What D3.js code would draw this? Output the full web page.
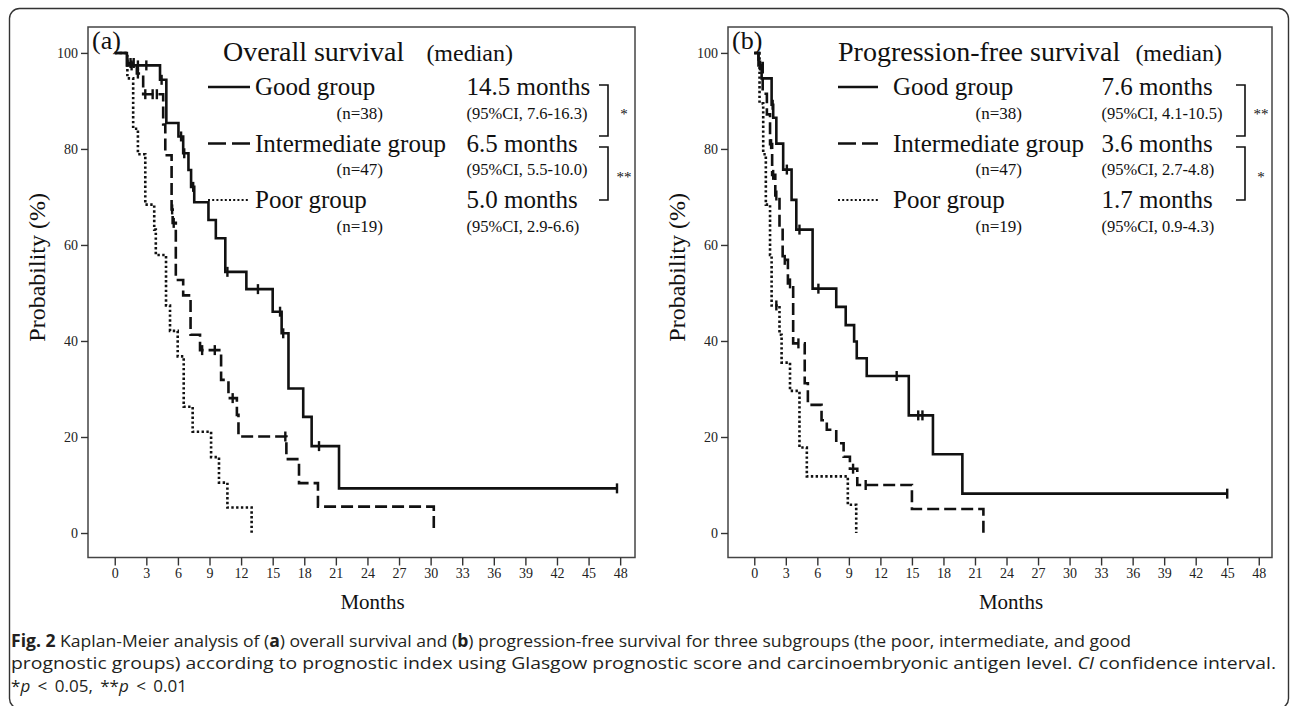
<!DOCTYPE html>
<html>
<head>
<meta charset="utf-8">
<script src="https://cdn.jsdelivr.net/npm/d3@7"></script>
<style>
  body { margin: 0; background: #fff; }
  svg { display: block; }
</style>
</head>
<body>
<svg width="1290" height="706"></svg>
<script>
// axis ticks
const monthTicks = d3.range(0, 49, 3);
const probTicks = [0, 20, 40, 60, 80, 100];

// overall survival: [month, survival %] after each drop, plus censor times
const osGood = [[0,100],[1.15,97.4],[4.3,94.4],[4.9,85.4],[6.05,82.6],[6.5,79.1],[7.0,75.6],[7.25,72.1],[7.55,68.9],[8.9,65.2],[9.6,61.4],[10.5,54.4],[12.5,50.8],[15.0,46.1],[15.85,41.6],[16.5,30.1],[17.9,24.2],[18.7,18.1],[21.3,9.3]];
const osGoodCens = [1.6, 2.2, 3.0, 4.45, 6.3, 6.6, 7.45, 10.7, 13.6, 15.7, 16.0, 19.4, 47.7];
const osInter = [[0,100],[1.2,97.9],[2.1,95.7],[2.7,91.4],[4.6,85.1],[4.8,78.7],[5.4,67.4],[5.5,64.6],[5.8,52.7],[6.5,49.5],[7.2,41.3],[8.1,38.1],[10.1,31.9],[10.8,28.1],[11.6,24.6],[11.75,20.1],[16.3,15.4],[17.5,10.4],[19.3,5.5],[30.3,0]];
const osInterCens = [1.5, 1.8, 2.2, 2.9, 3.6, 4.0, 5.45, 5.6, 8.3, 9.5, 11.2, 16.2];
const osPoor = [[0,100],[1.2,94.7],[1.75,84.2],[2.2,78.9],[2.9,68.4],[3.75,63.2],[3.9,57.9],[4.87,47.4],[5.25,42.1],[5.98,36.8],[6.55,26.3],[7.4,21.1],[9.15,15.8],[9.9,10.5],[10.7,5.3],[13.0,0]];
const osPoorCens = [];

// progression-free survival
const pfsGood = [[0,100],[0.4,97.4],[0.7,94.7],[1.65,89.2],[1.8,86.5],[2.1,81.1],[2.75,75.7],[3.55,69.4],[4.0,63.2],[5.55,50.9],[7.8,47.1],[8.7,43.3],[9.5,39.9],[9.75,36.4],[10.7,32.7],[14.7,24.5],[17.0,16.4],[19.8,8.2]];
const pfsGoodCens = [0.55, 1.75, 3.1, 4.3, 6.1, 13.55, 15.6, 16.0, 45];
const pfsInter = [[0,100],[0.4,97.9],[0.8,91.5],[1.2,87.2],[1.5,81.0],[1.7,74.6],[2.0,70.3],[2.4,63.5],[2.7,56.9],[3.2,52.0],[3.7,39.5],[4.8,31.2],[5.1,26.7],[6.4,23.5],[6.9,21.5],[7.8,18.7],[8.5,15.9],[9.1,13.4],[9.8,10.0],[15.0,5.0],[21.8,0]];
const pfsInterCens = [1.6, 1.8, 2.1, 2.9, 3.4, 4.2, 9.4, 10.6];
const pfsPoor = [[0,100],[0.5,89.5],[0.85,78.9],[1.1,68.4],[1.5,57.9],[1.65,47.4],[2.4,41.3],[2.6,35.5],[3.4,29.6],[4.3,17.8],[5.0,11.8],[8.9,5.9],[9.7,0]];
const pfsPoorCens = [2.1];

// legend texts
const groupNames = ["Good group", "Intermediate group", "Poor group"];
const groupN = ["(n=38)", "(n=47)", "(n=19)"];
const osMedians = ["14.5 months", "6.5 months", "5.0 months"];
const osCI = ["(95%CI, 7.6-16.3)", "(95%CI, 5.5-10.0)", "(95%CI, 2.9-6.6)"];
const pfsMedians = ["7.6 months", "3.6 months", "1.7 months"];
const pfsCI = ["(95%CI, 4.1-10.5)", "(95%CI, 2.7-4.8)", "(95%CI, 0.9-4.3)"];
const osStars = ["*", "**"];
const pfsStars = ["**", "*"];

const serif = "'Liberation Serif', 'Times New Roman', serif";
const ink = "#111";
const svg = d3.select("svg");

// outer rounded box
svg.append("rect")
  .attr("x", 9.5).attr("y", 8.5).attr("width", 1279).attr("height", 700)
  .attr("rx", 10).attr("fill", "none").attr("stroke", "#333").attr("stroke-width", 1.4);

const styles = [
  { dash: null },
  { dash: "12,5" },
  { dash: "2.4,2.4" }
];

function survAt(steps, t) {
  let s = 100;
  for (const [tt, v] of steps) if (tt <= t) s = v;
  return s;
}

function drawPanel(p) {
  const x = d3.scaleLinear().domain(p.xDomain).range([p.left, p.right]);
  const y = d3.scaleLinear().domain([-5.1, 105.4]).range([557.5, 27]);

  // frame
  svg.append("rect")
    .attr("x", p.left).attr("y", 27).attr("width", p.right - p.left).attr("height", 530.5)
    .attr("fill", "none").attr("stroke", "#444").attr("stroke-width", 1.5);

  const gx = svg.append("g")
    .attr("transform", "translate(0,557.5)")
    .call(d3.axisBottom(x).tickValues(monthTicks).tickSize(8).tickSizeOuter(0));
  const gy = svg.append("g")
    .attr("transform", `translate(${p.left},0)`)
    .call(d3.axisLeft(y).tickValues(probTicks).tickSize(7).tickSizeOuter(0));
  [gx, gy].forEach(g => {
    g.select(".domain").remove();
    g.selectAll(".tick line").attr("stroke", "#333").attr("stroke-width", 1.4);
    g.selectAll(".tick text").attr("font-family", serif).attr("font-size", 14).attr("fill", "#222");
  });

  // axis titles
  svg.append("text")
    .attr("x", (p.left + p.right) / 2 + 11).attr("y", 609)
    .attr("text-anchor", "middle").attr("font-family", serif).attr("font-size", 21).attr("fill", ink)
    .text("Months");
  svg.append("text")
    .attr("transform", `translate(${p.left - 43},193) rotate(-90)`)
    .attr("text-anchor", "end").attr("font-family", serif).attr("font-size", 24).attr("fill", ink)
    .text("Probability (%)");

  // curves, poor first so good sits on top
  const line = d3.line().x(d => x(d[0])).y(d => y(d[1])).curve(d3.curveStepAfter);
  [2, 1, 0].forEach(i => {
    const steps = p.curves[i], cens = p.cens[i];
    const pts = steps.slice();
    const end = d3.max(cens) || 0;
    if (end > pts[pts.length - 1][0]) pts.push([end, pts[pts.length - 1][1]]);
    svg.append("path")
      .attr("d", line(pts))
      .attr("fill", "none").attr("stroke", ink).attr("stroke-width", 2.6)
      .attr("stroke-dasharray", styles[i].dash);
    svg.append("g").selectAll("line")
      .data(cens).join("line")
      .attr("x1", d => x(d)).attr("x2", d => x(d))
      .attr("y1", d => y(survAt(steps, d)) - 5)
      .attr("y2", d => y(survAt(steps, d)) + 5)
      .attr("stroke", ink).attr("stroke-width", 2.4);
  });

  // panel letter and legend
  svg.append("text").attr("x", p.left + 4).attr("y", 49)
    .attr("font-family", serif).attr("font-size", 26).attr("fill", ink).text(p.letter);
  svg.append("text").attr("x", p.titleX).attr("y", 61)
    .attr("font-family", serif).attr("font-size", 28).attr("fill", ink).text(p.title);
  svg.append("text").attr("x", p.medianEnd).attr("y", 61).attr("text-anchor", "end")
    .attr("font-family", serif).attr("font-size", 24).attr("fill", ink).text("(median)");

  const rows = [95, 151.5, 208];
  rows.forEach((ry, i) => {
    svg.append("line")
      .attr("x1", p.sampleX[0]).attr("x2", p.sampleX[1])
      .attr("y1", ry - 8).attr("y2", ry - 8)
      .attr("stroke", ink).attr("stroke-width", i === 2 ? 2.2 : 2.4)
      .attr("stroke-dasharray", i === 1 ? "18,6" : (i === 2 ? "2,2.2" : null));
    svg.append("text").attr("x", p.textX).attr("y", ry)
      .attr("font-family", serif).attr("font-size", 25).attr("fill", ink).text(groupNames[i]);
    svg.append("text").attr("x", p.nX).attr("y", ry + 23.5).attr("text-anchor", "end")
      .attr("font-family", serif).attr("font-size", 17).attr("fill", ink).text(groupN[i]);
    svg.append("text").attr("x", p.medX).attr("y", ry)
      .attr("font-family", serif).attr("font-size", 25).attr("fill", ink).text(p.medians[i]);
    svg.append("text").attr("x", p.medX).attr("y", ry + 23.5)
      .attr("font-family", serif).attr("font-size", 16.5).attr("fill", ink).text(p.ci[i]);
  });

  // significance brackets
  const spans = [[85, 136], [147, 200]];
  spans.forEach((s, i) => {
    svg.append("path")
      .attr("d", `M${p.bracketX - 9},${s[0]}H${p.bracketX}V${s[1]}H${p.bracketX - 9}`)
      .attr("fill", "none").attr("stroke", ink).attr("stroke-width", 1.6);
    svg.append("text").attr("x", p.bracketX + 16).attr("y", (s[0] + s[1]) / 2 + 8)
      .attr("text-anchor", "middle").attr("font-family", serif).attr("font-size", 15).attr("fill", ink)
      .text(p.stars[i]);
  });
}

drawPanel({
  letter: "(a)", title: "Overall survival", titleX: 223, medianEnd: 513,
  left: 88, right: 635, xDomain: [-2.54, 49.41],
  curves: [osGood, osInter, osPoor], cens: [osGoodCens, osInterCens, osPoorCens],
  sampleX: [208, 250], textX: 255, nX: 383, medX: 466.5, bracketX: 608,
  medians: osMedians, ci: osCI, stars: osStars
});
drawPanel({
  letter: "(b)", title: "Progression-free survival", titleX: 838, medianEnd: 1222,
  left: 728, right: 1272, xDomain: [-2.50, 49.26],
  curves: [pfsGood, pfsInter, pfsPoor], cens: [pfsGoodCens, pfsInterCens, pfsPoorCens],
  sampleX: [838, 878], textX: 893, nX: 1022, medX: 1101.5, bracketX: 1245,
  medians: pfsMedians, ci: pfsCI, stars: pfsStars
});

// caption
const cap = svg.append("g").attr("font-family", "'Open Sans', sans-serif").attr("font-size", 17).attr("fill", "#231f20");
const l1 = cap.append("text").attr("x", 11).attr("y", 647)
  .attr("textLength", 1120).attr("lengthAdjust", "spacingAndGlyphs");
l1.append("tspan").attr("font-weight", "bold").text("Fig. 2");
l1.append("tspan").text(" Kaplan-Meier analysis of (");
l1.append("tspan").attr("font-weight", "bold").text("a");
l1.append("tspan").text(") overall survival and (");
l1.append("tspan").attr("font-weight", "bold").text("b");
l1.append("tspan").text(") progression-free survival for three subgroups (the poor, intermediate, and good");
const l2 = cap.append("text").attr("x", 11).attr("y", 669)
  .attr("textLength", 1265).attr("lengthAdjust", "spacingAndGlyphs");
l2.append("tspan").text("prognostic groups) according to prognostic index using Glasgow prognostic score and carcinoembryonic antigen level. ");
l2.append("tspan").attr("font-style", "italic").text("CI");
l2.append("tspan").text(" confidence interval.");
const l3 = cap.append("text").attr("x", 11).attr("y", 692).attr("word-spacing", 3);
l3.append("tspan").text("*");
l3.append("tspan").attr("font-style", "italic").text("p");
l3.append("tspan").text(" < 0.05, **");
l3.append("tspan").attr("font-style", "italic").text("p");
l3.append("tspan").text(" < 0.01");
</script>
</body>
</html>
